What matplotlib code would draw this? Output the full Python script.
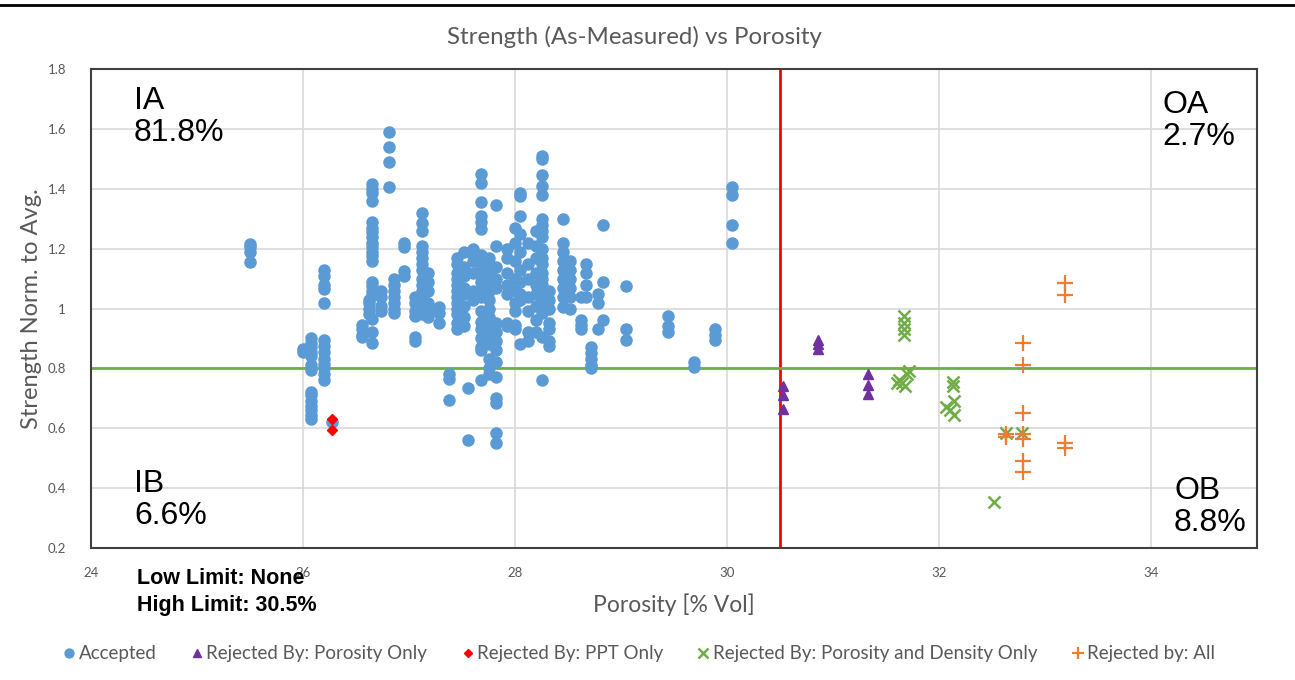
import matplotlib
matplotlib.use("Agg")
import matplotlib.pyplot as plt
from matplotlib.lines import Line2D
from matplotlib.ticker import FuncFormatter

# ---------------- data ----------------
# Accepted points, grouped by porosity column
accepted_col_x = [25.50, 26.00, 26.08, 26.20, 26.27, 26.56, 26.62, 26.65, 26.74, 26.81,
                  26.86, 26.95, 27.06, 27.12, 27.18, 27.28, 27.38, 27.45, 27.52, 27.56,
                  27.60, 27.68, 27.75, 27.82, 27.92, 28.00, 28.05, 28.12, 28.20, 28.25,
                  28.32, 28.45, 28.52, 28.62, 28.67, 28.72, 28.78, 28.83, 29.05, 29.44,
                  29.69, 29.89, 30.05]
accepted_col_y = [
    [1.215, 1.205, 1.19, 1.155],
    [0.865, 0.855],
    [0.90, 0.885, 0.87, 0.855, 0.84, 0.81, 0.795, 0.72, 0.71, 0.69, 0.675, 0.66, 0.645, 0.63],
    [1.13, 1.11, 1.08, 1.065, 1.02, 0.895, 0.875, 0.855, 0.83, 0.815, 0.80, 0.78, 0.76],
    [0.62],
    [0.945, 0.93, 0.91, 0.905],
    [1.03, 1.02, 1.00, 0.98],
    [1.415, 1.40, 1.385, 1.36, 1.29, 1.27, 1.255, 1.24, 1.22, 1.205, 1.19, 1.175, 1.16,
     1.09, 1.075, 1.06, 1.045, 0.965, 0.92, 0.885],
    [1.06, 1.04, 1.01, 0.99],
    [1.59, 1.54, 1.49, 1.405],
    [1.10, 1.08, 1.06, 1.04, 1.02, 1.00, 0.985],
    [1.22, 1.205, 1.125, 1.11],
    [1.04, 1.02, 0.99, 0.975, 0.905, 0.89],
    [1.32, 1.285, 1.26, 1.21, 1.19, 1.17, 1.15, 1.13, 1.10, 1.08, 1.06, 1.04, 1.00, 0.98],
    [1.12, 1.09, 1.06, 1.02, 0.99, 0.97],
    [1.005, 0.985, 0.95],
    [0.78, 0.765, 0.695],
    [1.17, 1.15, 1.12, 1.10, 1.08, 1.06, 1.04, 1.02, 1.00, 0.98, 0.95, 0.93],
    [1.19, 1.14, 1.11, 1.07, 1.05, 1.01, 0.97, 0.94],
    [0.735, 0.56],
    [1.20, 1.18, 1.16, 1.12, 1.06, 1.03],
    [1.45, 1.42, 1.355, 1.31, 1.29, 1.265, 1.18, 1.16, 1.14, 1.11, 1.09, 1.06, 1.04, 0.99,
     0.955, 0.93, 0.90, 0.87, 0.86, 0.76],
    [1.17, 1.15, 1.12, 1.09, 1.06, 1.03, 1.00, 0.97, 0.94, 0.91, 0.88, 0.83, 0.80, 0.78],
    [1.345, 1.21, 1.14, 1.10, 1.07, 0.95, 0.92, 0.89, 0.86, 0.82, 0.77, 0.70, 0.685, 0.585, 0.55],
    [1.20, 1.17, 1.12, 1.08, 1.05, 0.95, 0.94],
    [1.27, 1.22, 1.16, 1.10, 1.06, 1.02, 0.99, 0.945, 0.93],
    [1.385, 1.375, 1.31, 1.25, 1.19, 1.13, 1.09, 1.05, 1.03, 0.88],
    [1.22, 1.15, 1.10, 1.04, 0.99, 0.92, 0.89],
    [1.26, 1.21, 1.17, 1.12, 1.08, 1.05, 1.01, 0.96, 0.92],
    [1.51, 1.50, 1.445, 1.41, 1.38, 1.30, 1.28, 1.26, 1.24, 1.20, 1.17, 1.15, 1.12, 1.10,
     1.08, 1.06, 1.04, 1.02, 0.985, 0.905, 0.76],
    [1.06, 1.03, 1.00, 0.95, 0.93, 0.89, 0.875],
    [1.30, 1.22, 1.19, 1.16, 1.13, 1.10, 1.07, 1.04, 1.005],
    [1.16, 1.13, 1.10, 1.07, 1.04, 1.00],
    [1.04, 0.96, 0.945, 0.93],
    [1.15, 1.12, 1.08, 1.04],
    [0.87, 0.85, 0.83, 0.81, 0.80],
    [1.05, 1.02, 0.93],
    [1.28, 1.09, 0.96],
    [1.075, 0.93, 0.895],
    [0.975, 0.94, 0.92],
    [0.82, 0.805],
    [0.93, 0.91, 0.895],
    [1.405, 1.38, 1.28, 1.22],
]

porosity_only_x = [30.53, 30.53, 30.53, 30.86, 30.86, 30.86, 31.33, 31.33, 31.33]
porosity_only_y = [0.74, 0.71, 0.665, 0.895, 0.88, 0.865, 0.78, 0.745, 0.715]

ppt_only_x = [26.27, 26.27]
ppt_only_y = [0.63, 0.595]

por_dens_x = [31.67, 31.67, 31.67, 31.67, 31.60, 31.62, 31.65, 31.70, 31.72, 31.68,
              32.13, 32.13, 32.07, 32.10, 32.14, 32.14, 32.52, 32.63, 32.78]
por_dens_y = [0.975, 0.95, 0.93, 0.91, 0.75, 0.76, 0.75, 0.78, 0.79, 0.74,
              0.755, 0.74, 0.67, 0.66, 0.69, 0.645, 0.355, 0.585, 0.585]

all_x = [32.79, 32.79, 32.79, 32.79, 32.79, 32.79, 32.79, 32.63, 32.63, 33.19, 33.19, 33.19, 33.19]
all_y = [0.885, 0.81, 0.65, 0.58, 0.565, 0.49, 0.455, 0.58, 0.57, 0.55, 0.535, 1.085, 1.045]

x_ticks = [24, 26, 28, 30, 32, 34]
y_ticks = [0.2, 0.4, 0.6, 0.8, 1.0, 1.2, 1.4, 1.6, 1.8]
high_limit = 30.5
strength_limit = 0.8

quadrants = [("IA", "81.8%"), ("OA", "2.7%"), ("IB", "6.6%"), ("OB", "8.8%")]

# ---------------- styling ----------------
GRAY = "#595959"
GFONT = ["Lato", "DejaVu Sans"]
AFONT = ["Liberation Sans", "DejaVu Sans"]

fig = plt.figure(figsize=(12.95, 6.8), dpi=100)
W, H = 1295, 680
ax = fig.add_axes([91 / W, 1 - 548 / H, (1257 - 91) / W, (548 - 69) / H])

acc_x, acc_y = [], []
for cx, ys in zip(accepted_col_x, accepted_col_y):
    for y in ys:
        acc_x.append(cx)
        acc_y.append(y)

ax.axvline(high_limit, color="#FF0000", lw=2, zorder=2)
ax.axhline(strength_limit, color="#70AD47", lw=2, zorder=2)

ax.plot(acc_x, acc_y, "o", color="#5B9BD5", ms=8, mec="#5B9BD5", zorder=3,
        label="Accepted")
ax.plot(porosity_only_x, porosity_only_y, "^", color="#7030A0", ms=7, zorder=4,
        label="Rejected By: Porosity Only")
ax.plot(ppt_only_x, ppt_only_y, "D", color="#FF0000", ms=5.5, zorder=4,
        label="Rejected By: PPT Only")
ax.plot(por_dens_x, por_dens_y, "x", color="#70AD47", ms=9, mew=1.8, ls="none", zorder=4,
        label="Rejected By: Porosity and Density Only")
ax.plot(all_x, all_y, "+", color="#ED7D31", ms=11, mew=1.6, ls="none", zorder=4,
        label="Rejected by: All")

ax.set_xlim(24, 35)
ax.set_ylim(0.2, 1.8)
ax.set_xticks(x_ticks)
ax.set_yticks(y_ticks)
ax.yaxis.set_major_formatter(FuncFormatter(lambda v, p: f"{v:g}"))
ax.grid(True, color="#D9D9D9", lw=1.2, zorder=0)
ax.set_axisbelow(True)
ax.tick_params(length=0, labelsize=9.5, labelcolor=GRAY)
ax.tick_params(axis="x", pad=14)
ax.tick_params(axis="y", pad=18)
for lab in ax.get_xticklabels() + ax.get_yticklabels():
    lab.set_family(GFONT)
for s in ax.spines.values():
    s.set_color("#404040")
    s.set_linewidth(1.5)

ax.set_xlabel("Porosity [% Vol]", fontsize=16.5, color=GRAY, family=GFONT, labelpad=10)
ax.set_ylabel("Strength Norm. to Avg.", fontsize=17, color=GRAY, family=GFONT, labelpad=4)

fig.text(634 / W, 1 - 37 / H, "Strength (As-Measured) vs Porosity", ha="center",
         va="center", fontsize=17.3, color=GRAY, family=GFONT)

# quadrant labels
qpos = [(134, 86), (1162, 90), (134, 469), (1174, 476)]
for (name, pct), (px, py) in zip(quadrants, qpos):
    fig.text(px / W, 1 - py / H, f"{name}\n{pct}", ha="left", va="top", fontsize=23,
             family=AFONT, color="black", linespacing=1.1)

fig.text(137 / W, 1 - 578 / H, "Low Limit: None", ha="left", va="center", fontsize=15.5,
         fontweight="bold", family=AFONT, zorder=5)
fig.text(137 / W, 1 - 606 / H, f"High Limit: {high_limit}%", ha="left", va="center",
         fontsize=15.5, fontweight="bold", family=AFONT)

leg = fig.legend(loc="center", bbox_to_anchor=(638 / W, 1 - 654 / H), ncol=5, frameon=False,
                 handletextpad=0.05, columnspacing=1.7, handlelength=0.9, markerscale=0.8,
                 prop={"family": GFONT, "size": 13.5})
for t in leg.get_texts():
    t.set_color(GRAY)

fig.add_artist(Line2D([0, 1], [1 - 5 / H, 1 - 5 / H], transform=fig.transFigure,
                      color="black", lw=2))

fig.savefig("out.png", dpi=100)
